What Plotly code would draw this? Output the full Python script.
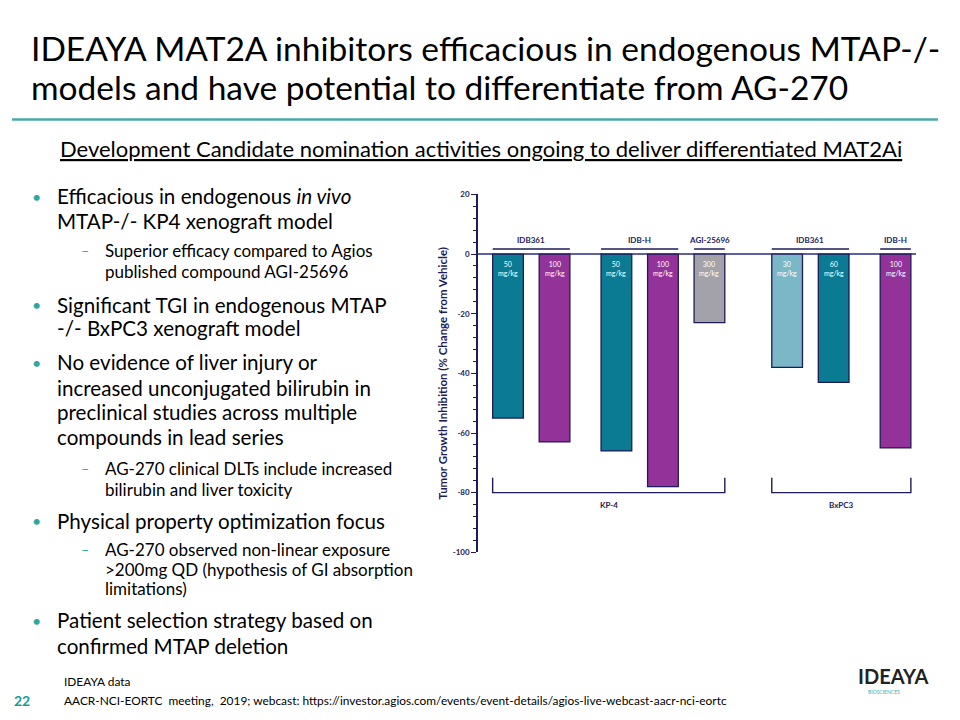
import plotly.graph_objects as go

# ---------------- data ----------------
dose_labels = ["50<br>mg/kg", "100<br>mg/kg", "50<br>mg/kg", "100<br>mg/kg",
               "300<br>mg/kg", "30<br>mg/kg", "60<br>mg/kg", "100<br>mg/kg"]
tgi_values = [-55, -63, -66, -78, -23, -38, -43, -65]
compounds = ["IDB361", "IDB-H", "AGI-25696", "IDB361", "IDB-H"]
compound_bar_counts = [2, 2, 1, 2, 1]
models = ["KP-4", "BxPC3"]
model_compound_counts = [3, 2]
y_tick_values = [20, 0, -20, -40, -60, -80, -100]
y_tick_labels = ["20", "0", "-20", "-40", "-60", "-80", "-100"]

# ---------------- style ----------------
NAVY = "#1e1b5a"
TEAL = "#0b7a93"
PURPLE = "#93339a"
GREY = "#a3a2a8"
LTEAL = "#7ab7c7"
bar_colors = [TEAL, PURPLE, TEAL, PURPLE, GREY, LTEAL, TEAL, PURPLE]
extra_gap_before_group = [0, 0.33, 0, 0.67, 0.33]
BAR_W = 0.66
FONT = "Lato"
W, H, OFF = 952, 712, 8   # page body margin offset

# positions of bars computed from the grouping
positions = []
group_spans = []
p = 0.0
for gi, n in enumerate(compound_bar_counts):
    if gi > 0:
        p += extra_gap_before_group[gi]
    start = p
    for _ in range(n):
        positions.append(p)
        p += 1
    group_spans.append((start, p - 1))

model_spans = []
gi = 0
for mc in model_compound_counts:
    s = group_spans[gi][0]
    e = group_spans[gi + mc - 1][1]
    model_spans.append((s, e))
    gi += mc

fig = go.Figure()
fig.add_trace(go.Bar(
    x=positions, y=tgi_values, width=BAR_W,
    marker=dict(color=bar_colors, line=dict(color=NAVY, width=1.3)),
    hoverinfo="skip", showlegend=False,
))

def px(x):
    return (x - OFF) / W

def py(y):
    return 1 - (y - OFF) / H

annotations = []
shapes = []

# dose labels inside bars
for x, lab in zip(positions, dose_labels):
    annotations.append(dict(x=x, y=-1.2, xref="x", yref="y", text=lab, showarrow=False,
                            yanchor="top", xanchor="center",
                            font=dict(family=FONT, size=7, color="white")))

# compound group labels
for (s, e), name in zip(group_spans, compounds):
    shapes.append(dict(type="line", xref="x", yref="y", x0=s - BAR_W / 2, x1=e + BAR_W / 2,
                       y0=1.7, y1=1.7, line=dict(color=NAVY, width=1.4)))
    annotations.append(dict(x=(s + e) / 2, y=2.4, xref="x", yref="y", text="<b>%s</b>" % name,
                            showarrow=False, yanchor="bottom",
                            font=dict(family=FONT, size=8, color=NAVY)))

# model brackets
for (s, e), name in zip(model_spans, models):
    x0 = s - BAR_W / 2
    x1 = e + BAR_W / 2
    shapes.append(dict(type="path", xref="x", yref="y",
                       path="M %f,-75 L %f,-80 L %f,-80 L %f,-75" % (x0, x0, x1, x1),
                       line=dict(color=NAVY, width=1.4)))
    annotations.append(dict(x=(x0 + x1) / 2, y=-81.8, xref="x", yref="y", text="<b>%s</b>" % name,
                            showarrow=False, yanchor="top",
                            font=dict(family=FONT, size=8, color=NAVY)))

# ---------------- slide text ----------------
annotations.append(dict(x=px(29), y=py(43), xref="paper", yref="paper", xanchor="left", yanchor="middle",
                        text="IDEAYA MAT2A inhibitors efficacious in endogenous MTAP-/-", showarrow=False,
                        font=dict(family=FONT, size=33.5, color="black")))
annotations.append(dict(x=px(29), y=py(83), xref="paper", yref="paper", xanchor="left", yanchor="middle",
                        text="models and have potential to differentiate from AG-270", showarrow=False,
                        font=dict(family=FONT, size=33.5, color="black")))
shapes.append(dict(type="line", xref="paper", yref="paper", x0=px(12), x1=px(938), y0=py(116), y1=py(116),
                   line=dict(color="#4aa9ad", width=2.5)))
annotations.append(dict(x=px(481), y=py(145), xref="paper", yref="paper", xanchor="center", yanchor="middle",
                        text="<u>Development Candidate nomination activities ongoing to deliver differentiated MAT2Ai</u>",
                        showarrow=False, font=dict(family=FONT, size=22, color="black")))

main_lines = [
    (194, "Efficacious in endogenous <i>in vivo</i>", True),
    (219, "MTAP-/- KP4 xenograft model", False),
    (304, "Significant TGI in endogenous MTAP", True),
    (327, "-/- BxPC3 xenograft model", False),
    (362, "No evidence of liver injury or", True),
    (388, "increased unconjugated bilirubin in", False),
    (413, "preclinical studies across multiple", False),
    (438, "compounds in lead series", False),
    (523, "Physical property optimization focus", True),
    (624, "Patient selection strategy based on", True),
    (650, "confirmed MTAP deletion", False),
]
for y, t, bullet in main_lines:
    annotations.append(dict(x=px(55), y=py(y), xref="paper", yref="paper", xanchor="left", yanchor="middle",
                            text=t, showarrow=False, font=dict(family=FONT, size=20.6, color="black")))
    if bullet:
        annotations.append(dict(x=px(36), y=py(y), xref="paper", yref="paper", xanchor="center", yanchor="middle",
                                text="•", showarrow=False, font=dict(family=FONT, size=16, color="#2aa8a0")))

sub_lines = [
    (249, "Superior efficacy compared to Agios", True),
    (270, "published compound AGI-25696", False),
    (470, "AG-270 clinical DLTs include increased", True),
    (491, "bilirubin and liver toxicity", False),
    (552, "AG-270 observed non-linear exposure", True),
    (572, ">200mg QD (hypothesis of GI absorption", False),
    (592, "limitations)", False),
]
for y, t, dash in sub_lines:
    annotations.append(dict(x=px(103), y=py(y), xref="paper", yref="paper", xanchor="left", yanchor="middle",
                            text=t, showarrow=False, font=dict(family=FONT, size=17, color="black")))
    if dash:
        annotations.append(dict(x=px(85), y=py(y), xref="paper", yref="paper", xanchor="center", yanchor="middle",
                                text="–", showarrow=False, font=dict(family=FONT, size=14, color="#2aa8a0")))

# footer
annotations.append(dict(x=px(62), y=py(686), xref="paper", yref="paper", xanchor="left", yanchor="middle",
                        text="IDEAYA data", showarrow=False, font=dict(family=FONT, size=11.9, color="black")))
annotations.append(dict(x=px(62), y=py(705), xref="paper", yref="paper", xanchor="left", yanchor="middle",
                        text="AACR-NCI-EORTC  meeting,  2019; webcast: https://investor.agios.com/events/event-details/agios-live-webcast-aacr-nci-eortc",
                        showarrow=False, font=dict(family=FONT, size=11.9, color="black")))
annotations.append(dict(x=px(22), y=py(705), xref="paper", yref="paper", xanchor="center", yanchor="middle",
                        text="<b>22</b>", showarrow=False, font=dict(family=FONT, size=14, color="#1a9c95")))
# logo
annotations.append(dict(x=px(893), y=py(680), xref="paper", yref="paper", xanchor="center", yanchor="middle",
                        text="<b>IDEAYA</b>", showarrow=False, font=dict(family=FONT, size=20, color="#222222")))
annotations.append(dict(x=px(884), y=py(697), xref="paper", yref="paper", xanchor="center", yanchor="middle",
                        text="BIOSCIENCES", showarrow=False, font=dict(family=FONT, size=5, color="#3aaeb0")))

fig.update_layout(
    width=W, height=H,
    margin=dict(l=0, r=0, t=0, b=0),
    paper_bgcolor="white", plot_bgcolor="white",
    font=dict(family=FONT),
    annotations=annotations, shapes=shapes,
    xaxis=dict(domain=[px(478), px(916)], range=[-0.645, 8.77], visible=False, fixedrange=True),
    yaxis=dict(domain=[py(555), py(192)], range=[-100, 20], showgrid=False,
               zeroline=True, zerolinecolor="#5d60a8", zerolinewidth=1.5,
               showline=True, linecolor=NAVY, linewidth=1.5,
               tickmode="array", tickvals=y_tick_values, ticktext=["<b>%s</b>" % t for t in y_tick_labels],
               ticks="outside", ticklen=5, tickwidth=1.4, tickcolor=NAVY,
               tickfont=dict(family=FONT, size=8, color=NAVY),
               minor=dict(tickmode="linear", tick0=0, dtick=4, ticks="outside", ticklen=3,
                          tickwidth=1, tickcolor=NAVY),
               title=dict(text="<b>Tumor Growth Inhibition (% Change from Vehicle)</b>", standoff=3,
                          font=dict(family=FONT, size=11.5, color=NAVY)),
               fixedrange=True),
)

fig.write_html("out.html")
